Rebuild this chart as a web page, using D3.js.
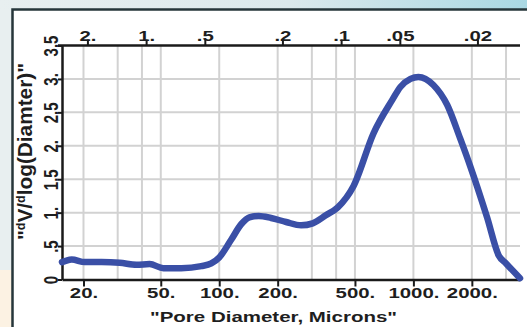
<!DOCTYPE html>
<html><head><meta charset="utf-8">
<script src="https://cdn.jsdelivr.net/npm/d3@7"></script>
<style>body{margin:0;padding:0;overflow:hidden;} svg{display:block;}</style>
</head><body>
<svg id="c" width="527" height="327"></svg>
<script>
// ---- data ----
const diameters = [15.5, 16.2, 17.4, 20.3, 24.8, 30.7, 37.5, 43.8, 51.6, 63.8, 80.9, 91, 100, 115, 130, 143, 160, 185, 221, 264, 303, 354, 408, 492, 624, 780, 857, 966, 1061, 1267, 1494, 1741, 1959, 2395, 2750, 3000, 3540];
const dvValues  = [0.26, 0.28, 0.30, 0.26, 0.26, 0.25, 0.22, 0.23, 0.17, 0.17, 0.20, 0.24, 0.33, 0.59, 0.83, 0.93, 0.95, 0.92, 0.86, 0.81, 0.84, 0.96, 1.08, 1.40, 2.19, 2.69, 2.88, 3.00, 3.03, 2.91, 2.61, 2.11, 1.70, 0.93, 0.36, 0.24, 0.02];
const bottomTicks = [20, 50, 100, 200, 500, 1000, 2000];
const bottomTickLabels = ["20.", "50.", "100.", "200.", "500.", "1000.", "2000."];
const topTicks = [2, 1, 0.5, 0.2, 0.1, 0.05, 0.02];
const topTickLabels = ["2.", "1.", ".5", ".2", ".1", ".05", ".02"];
const yTicks = [0, 0.5, 1, 1.5, 2, 2.5, 3, 3.5];
const yTickLabels = ["0", ".5", "1.", "1.5", "2.", "2.5", "3.", "3.5"];
const xGrid = [20, 30, 40, 50, 100, 200, 300, 400, 500, 1000, 2000, 3000];
const yGrid = [0.5, 1, 1.5, 2, 2.5, 3];
const xTitle = "\"Pore Diameter, Microns\"";

// ---- layout ----
const svg = d3.select("#c");
const L = 62, R = 520, T = 45.5, B = 279.5;
const SX = 1.36;
const font = "'Liberation Sans', Arial, sans-serif";
const x = d3.scaleLog().domain([15.5, 3540]).range([L, R]);
const xTop = d3.scaleLog().domain([2.70, 0.0121]).range([L, R]);
const y = d3.scaleLinear().domain([0, 3.5]).range([B, T]);

// background
const defs = svg.append("defs");
const lg = defs.append("linearGradient").attr("id", "topg").attr("x1", "0").attr("x2", "1").attr("y1", "0").attr("y2", "0");
lg.append("stop").attr("offset", "0").attr("stop-color", "#e8eff0");
lg.append("stop").attr("offset", "0.55").attr("stop-color", "#dbe9ec");
lg.append("stop").attr("offset", "1").attr("stop-color", "#a9d8e3");
svg.append("rect").attr("width", 527).attr("height", 327).attr("fill", "#e8eff0");
svg.append("rect").attr("width", 527).attr("height", 10).attr("fill", "url(#topg)");
svg.append("rect").attr("x", 0).attr("y", 270).attr("width", 12).attr("height", 57).attr("fill", "#fcf2e3");
svg.append("rect").attr("x", 12.5).attr("y", 9.5).attr("width", 530).attr("height", 340)
  .attr("fill", "#ffffff").attr("stroke", "#26363a").attr("stroke-width", 2.5);

// grid
const grid = svg.append("g").attr("stroke", "#d2d2d2").attr("stroke-width", 2);
grid.selectAll("line.v").data(xGrid).join("line").attr("class", "v")
  .attr("x1", d => x(d)).attr("x2", d => x(d)).attr("y1", T).attr("y2", B);
grid.selectAll("line.h").data(yGrid).join("line").attr("class", "h")
  .attr("x1", L).attr("x2", R).attr("y1", d => y(d)).attr("y2", d => y(d));

function styleAxis(g) {
  g.select(".domain").attr("stroke", "#1a1a1a").attr("stroke-width", 2.5);
  g.selectAll(".tick line").attr("stroke", "#1a1a1a").attr("stroke-width", 2);
  g.selectAll(".tick text").attr("fill", "#1e1e1e").attr("font-family", font)
    .attr("font-weight", "bold").attr("font-size", 15);
}

// bottom axis
const gb = svg.append("g").attr("transform", `translate(0,${B})`)
  .call(d3.axisBottom(x).tickValues(bottomTicks).tickFormat((d, i) => bottomTickLabels[i]).tickSize(7).tickSizeOuter(0));
styleAxis(gb);
gb.selectAll(".tick text").attr("y", 0).attr("dy", 0).attr("transform", `translate(0,18) scale(${SX},1)`);

// top axis
const gt = svg.append("g").attr("transform", `translate(0,${T})`)
  .call(d3.axisTop(xTop).tickValues(topTicks).tickFormat((d, i) => topTickLabels[i]).tickSize(6).tickSizeOuter(0));
styleAxis(gt);
gt.select(".domain").attr("d", `M${L - 4},0H${R}`);
gt.selectAll(".tick text").attr("y", 0).attr("dy", 0).attr("transform", `translate(0,-5) scale(${SX},1)`);

// left axis
const gl = svg.append("g").attr("transform", `translate(${L},0)`)
  .call(d3.axisLeft(y).tickValues(yTicks).tickFormat((d, i) => yTickLabels[i]).tickSize(4).tickSizeOuter(0));
styleAxis(gl);
gl.selectAll(".tick text").attr("x", 0).attr("dy", 0).attr("text-anchor", "middle")
  .attr("transform", `translate(-4,0) scale(${SX},1) rotate(-90)`);

// curve
const line = d3.line().x(d => x(d[0])).y(d => y(d[1])).curve(d3.curveMonotoneX);
svg.append("path").datum(diameters.map((d, i) => [d, dvValues[i]]))
  .attr("d", line).attr("fill", "none").attr("stroke", "#3a4fa6")
  .attr("stroke-width", 6.5).attr("stroke-linecap", "round").attr("stroke-linejoin", "round");

// titles
svg.append("text").attr("x", 150).attr("y", 322).attr("font-family", font).attr("font-weight", "bold")
  .attr("font-size", 15).attr("fill", "#1e1e1e").attr("textLength", 247).attr("lengthAdjust", "spacingAndGlyphs")
  .text(xTitle);

const yt = svg.append("text").attr("transform", `translate(32,240) scale(${SX},1) rotate(-90)`)
  .attr("font-family", font).attr("font-weight", "bold").attr("font-size", 15).attr("fill", "#1e1e1e")
  .attr("textLength", 177).attr("lengthAdjust", "spacingAndGlyphs");
yt.append("tspan").text("\"");
yt.append("tspan").attr("font-size", 9).attr("dy", -5).text("d");
yt.append("tspan").attr("dy", 5).text("V/");
yt.append("tspan").attr("font-size", 9).attr("dy", -5).text("d");
yt.append("tspan").attr("dy", 5).text("log(Diamter)\"");
</script>
</body></html>
